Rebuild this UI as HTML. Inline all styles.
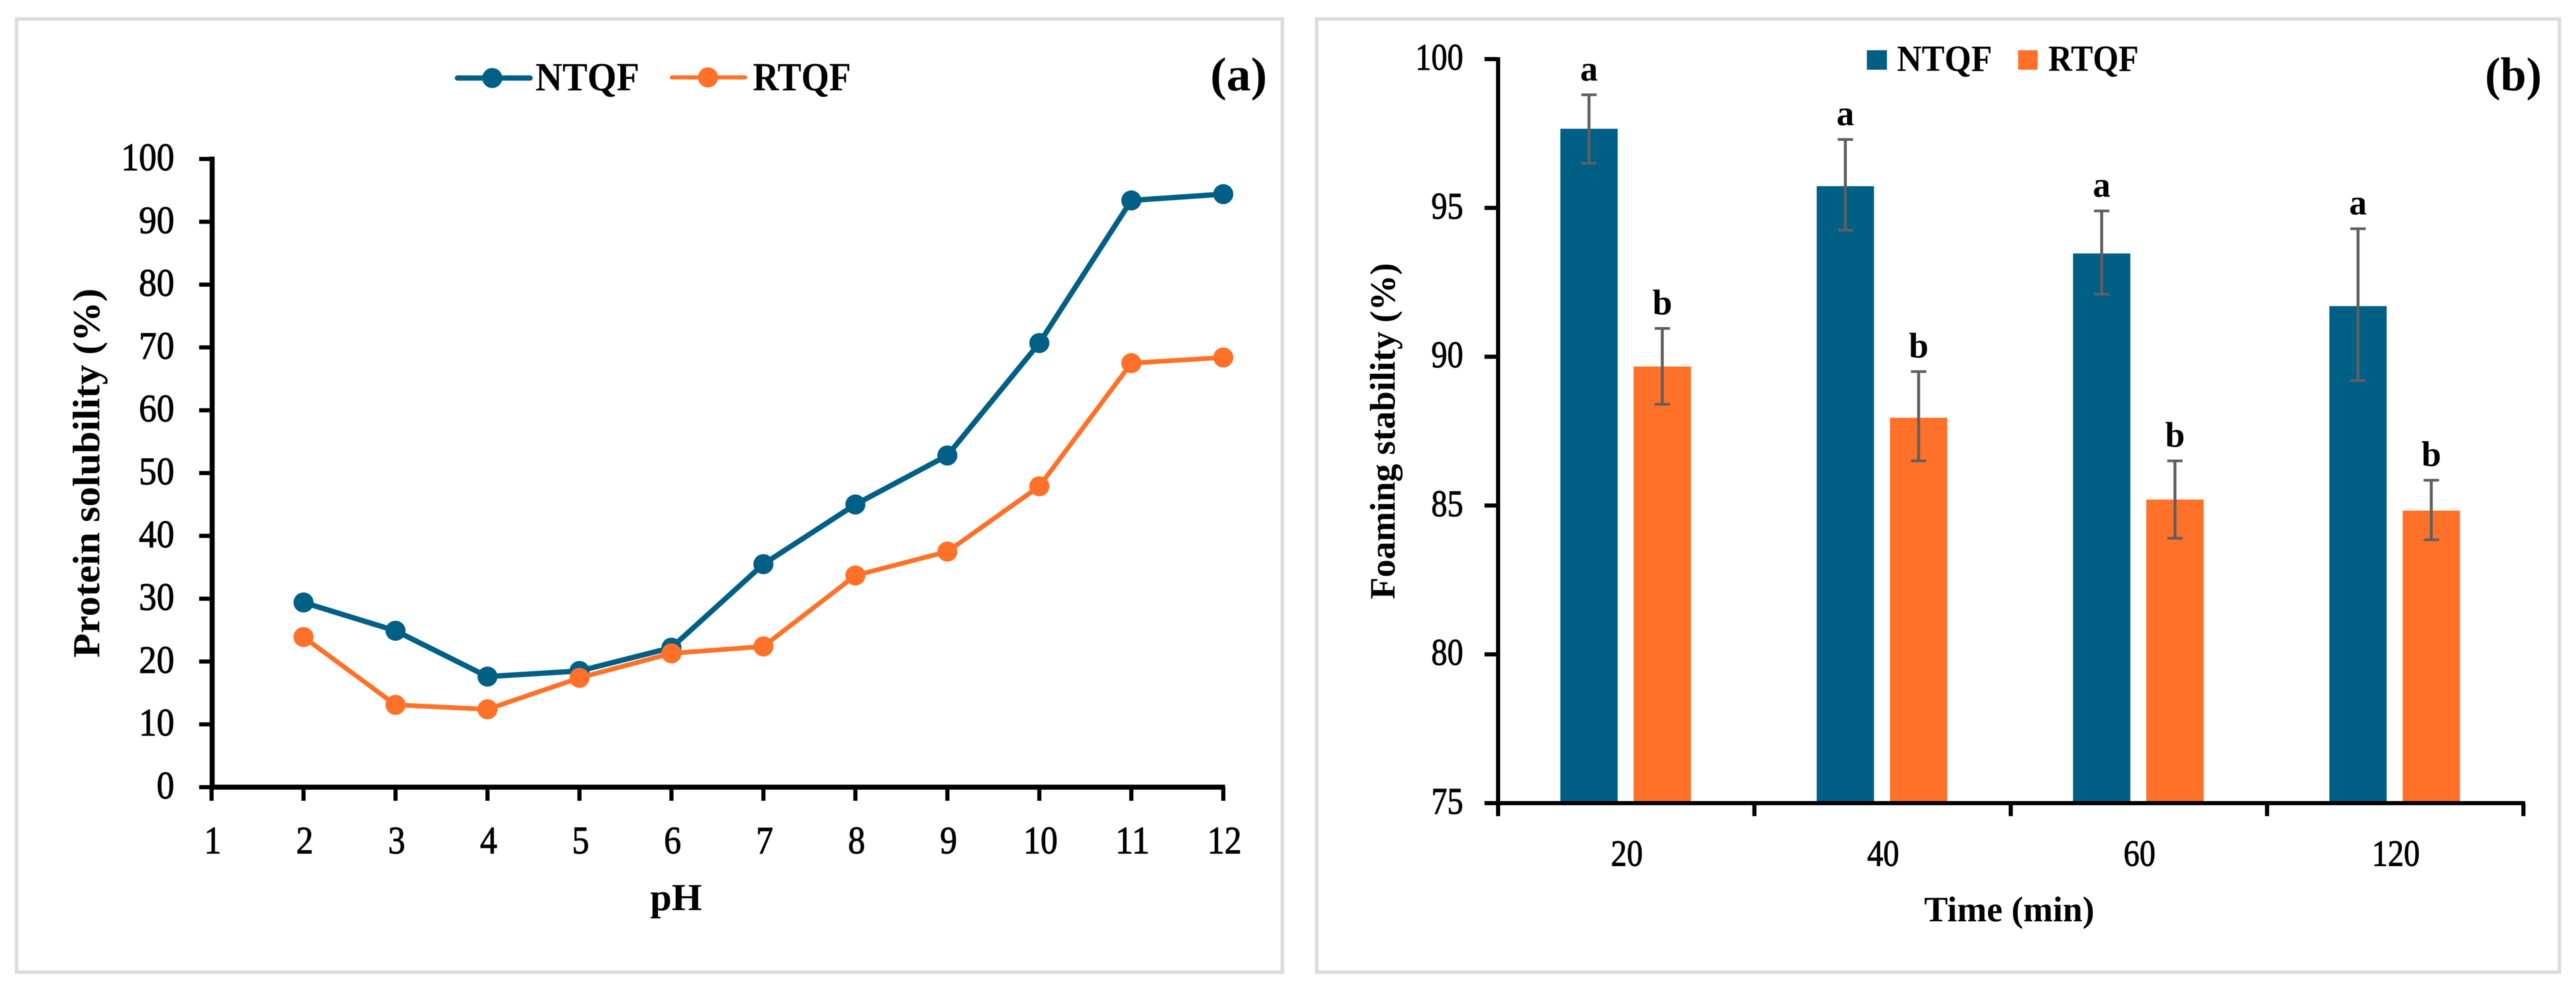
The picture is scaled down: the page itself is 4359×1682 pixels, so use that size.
<!DOCTYPE html>
<html lang="en">
<head>
<meta charset="utf-8">
<title>Protein solubility and foaming stability</title>
<style>
html,body{margin:0;padding:0;background:#fff;}
svg{display:block;filter:blur(0.8px);}
text{font-family:"Liberation Serif",serif;fill:#000;}
.b{font-weight:bold;}
.t{stroke:#000;stroke-width:1.2px;}
</style>
</head>
<body>
<svg id="fig" xmlns="http://www.w3.org/2000/svg" width="4359" height="1682" viewBox="0 0 4359 1682">
  <rect x="0" y="0" width="4359" height="1682" fill="#fff"/>
  <g id="panelA">
    <rect x="28" y="32" width="2142" height="1613" fill="#fff" stroke="#dcdcdc" stroke-width="6"/>
    <text class="b" x="2048" y="153" font-size="80" textLength="96" lengthAdjust="spacingAndGlyphs">(a)</text>
    <g>
      <line x1="774" y1="132" x2="897" y2="132" stroke="#005f85" stroke-width="9" stroke-linecap="round"/>
      <circle cx="833" cy="132" r="17" fill="#005f85"/>
      <text class="b" x="906" y="153" font-size="68" textLength="176" lengthAdjust="spacingAndGlyphs">NTQF</text>
      <line x1="1137" y1="131" x2="1261" y2="131" stroke="#ff7128" stroke-width="7" stroke-linecap="round"/>
      <circle cx="1198" cy="131" r="17" fill="#ff7128"/>
      <text class="b" x="1274" y="153" font-size="68" textLength="166" lengthAdjust="spacingAndGlyphs">RTQF</text>
    </g>
    <text class="b" transform="translate(168 1113) rotate(-90)" x="0" y="0" font-size="65" textLength="625" lengthAdjust="spacingAndGlyphs">Protein solubility (%)</text>
    <text class="b" x="1100" y="1540" font-size="65" textLength="88" lengthAdjust="spacingAndGlyphs">pH</text>
  </g>
  <g id="panelB">
    <rect x="2228" y="32" width="2103" height="1613" fill="#fff" stroke="#dcdcdc" stroke-width="6"/>
    <text class="b" x="4205" y="153" font-size="80" textLength="96" lengthAdjust="spacingAndGlyphs">(b)</text>
    <g>
      <rect x="3159" y="85" width="34" height="33" fill="#005f85"/>
      <text class="b" x="3210" y="120" font-size="62" textLength="161" lengthAdjust="spacingAndGlyphs">NTQF</text>
      <rect x="3415" y="85" width="33" height="33" fill="#ff7128"/>
      <text class="b" x="3466" y="120" font-size="62" textLength="153" lengthAdjust="spacingAndGlyphs">RTQF</text>
    </g>
    <text class="b" transform="translate(2360 1014) rotate(-90)" x="0" y="0" font-size="60" textLength="569" lengthAdjust="spacingAndGlyphs">Foaming stability (%)</text>
    <text class="b" x="3256" y="1559" font-size="60" textLength="288" lengthAdjust="spacingAndGlyphs">Time (min)</text>
  </g>
</svg>
<script>
// Panel (a) data
const phTicks = [1, 2, 3, 4, 5, 6, 7, 8, 9, 10, 11, 12];
const solubilityTicks = [0, 10, 20, 30, 40, 50, 60, 70, 80, 90, 100];
const phValues = [2, 3, 4, 5, 6, 7, 8, 9, 10, 11, 12];
const ntqfSolubility = [29.4, 24.9, 17.6, 18.5, 22.2, 35.5, 45.0, 52.8, 70.7, 93.4, 94.4];
const rtqfSolubility = [23.9, 13.1, 12.4, 17.4, 21.3, 22.4, 33.7, 37.5, 47.9, 67.5, 68.4];

// Panel (b) data
const timeCategories = ["20", "40", "60", "120"];
const stabilityTicks = [75, 80, 85, 90, 95, 100];
const ntqfStability = [97.66, 95.73, 93.47, 91.7];
const rtqfStability = [89.67, 87.95, 85.2, 84.83];
const ntqfErrUpper = [98.8, 97.3, 94.9, 94.3];
const ntqfErrLower = [96.5, 94.25, 92.1, 89.2];
const rtqfErrUpper = [90.95, 89.5, 86.5, 85.85];
const rtqfErrLower = [88.4, 86.5, 83.9, 83.85];
const ntqfLetters = ["a", "a", "a", "a"];
const rtqfLetters = ["b", "b", "b", "b"];

const NS = "http://www.w3.org/2000/svg";
function add(parent, tag, attrs, txt) {
  const el = document.createElementNS(NS, tag);
  for (const k in attrs) el.setAttribute(k, attrs[k]);
  if (txt !== undefined) el.textContent = txt;
  parent.appendChild(el);
  return el;
}

const TEAL = "#005f85", ORANGE = "#ff7128";

// ---- Panel A ----
const A = document.getElementById("panelA");
const ax = v => 358 + (v - 1) * (2070 - 358) / 11;
const ay = v => 1332 - v * (1332 - 269) / 100;

const aPlot = add(A, "g", {});



solubilityTicks.forEach(t => {
  const tick = add(aPlot, "line", {x1: 337, x2: 359, y1: ay(t), y2: ay(t), stroke: "#000", "stroke-width": 7});
  
  
  const label = add(aPlot, "text", {"class": "t", x: 295, y: ay(t) + 19, "font-size": 66, "text-anchor": "end", textLength: String(t).length * 30, lengthAdjust: "spacingAndGlyphs"}, t);
  
  
});
phTicks.forEach(t => {
  const tick = add(aPlot, "line", {x1: ax(t), x2: ax(t), y1: 1332, y2: 1355, stroke: "#000", "stroke-width": 7});
  
  
  const label = add(aPlot, "text", {"class": "t", x: ax(t) + 2, y: 1444, "font-size": 66, "text-anchor": "middle", textLength: String(t).length * 29, lengthAdjust: "spacingAndGlyphs"}, t);
  
  
});
const aAxisY = add(aPlot, "line", {x1: 359, x2: 359, y1: 265, y2: 1336, stroke: "#000", "stroke-width": 8.5});


const aAxisX = add(aPlot, "line", {x1: 355, x2: 2073, y1: 1332, y2: 1332, stroke: "#000", "stroke-width": 8.5});



function linePoints(values) {
  return values.map((v, i) => ax(phValues[i]) + "," + ay(v)).join(" ");
}
const ntqfLine = add(aPlot, "polyline", {points: linePoints(ntqfSolubility), fill: "none", stroke: TEAL, "stroke-width": 9, "stroke-linejoin": "round"});


ntqfSolubility.forEach((v, i) => {
  const dot = add(aPlot, "circle", {cx: ax(phValues[i]), cy: ay(v), r: 17, fill: TEAL});
  
  
});
const rtqfLine = add(aPlot, "polyline", {points: linePoints(rtqfSolubility), fill: "none", stroke: ORANGE, "stroke-width": 8, "stroke-linejoin": "round"});


rtqfSolubility.forEach((v, i) => {
  const dot = add(aPlot, "circle", {cx: ax(phValues[i]), cy: ay(v), r: 17, fill: ORANGE});
  
  
});

// ---- Panel B ----
const B = document.getElementById("panelB");
const bandLeft = 2535, bandW = (4270 - 2535) / timeCategories.length;
const bc = i => bandLeft + bandW * (i + 0.5);
const by = v => 1359 - (v - 75) * (1359 - 100) / 25;
const BAR_W = 97, BAR_GAP = 27;

const bPlot = add(B, "g", {});



stabilityTicks.forEach(t => {
  const tick = add(bPlot, "line", {x1: 2512, x2: 2535, y1: by(t), y2: by(t), stroke: "#000", "stroke-width": 7});
  
  
  const label = add(bPlot, "text", {"class": "t", x: 2476, y: by(t) + 18, "font-size": 64, "text-anchor": "end", textLength: String(t).length * 27, lengthAdjust: "spacingAndGlyphs"}, t);
  
  
});

function drawBar(i, value, hi, lo, color, offset, letter, seriesName) {
  const cx = bc(i) - 1 + offset;
  const bar = add(bPlot, "rect", {x: cx - BAR_W / 2, y: by(value), width: BAR_W, height: 1359 - by(value), fill: color});
  
  
  const stem = add(bPlot, "line", {x1: cx, x2: cx, y1: by(hi), y2: by(lo), stroke: "#5f5f5f", "stroke-width": 5});
  
  
  const capTop = add(bPlot, "line", {x1: cx - 13, x2: cx + 13, y1: by(hi), y2: by(hi), stroke: "#5f5f5f", "stroke-width": 4.5});
  
  
  const capBottom = add(bPlot, "line", {x1: cx - 13, x2: cx + 13, y1: by(lo), y2: by(lo), stroke: "#5f5f5f", "stroke-width": 4.5});
  
  
  const sig = add(bPlot, "text", {x: cx, y: by(hi) - 24, "font-size": 60, "text-anchor": "middle", "class": "b"}, letter);
  
  
}
timeCategories.forEach((c, i) => {
  const off = (BAR_W + BAR_GAP) / 2;
  drawBar(i, ntqfStability[i], ntqfErrUpper[i], ntqfErrLower[i], TEAL, -off, ntqfLetters[i], 'ntqf');
  drawBar(i, rtqfStability[i], rtqfErrUpper[i], rtqfErrLower[i], ORANGE, off, rtqfLetters[i], 'rtqf');
  const label = add(bPlot, "text", {"class": "t", x: bc(i) + 1, y: 1465, "font-size": 62, "text-anchor": "middle", textLength: c.length * 27, lengthAdjust: "spacingAndGlyphs"}, c);
  
  
});
for (let i = 0; i <= timeCategories.length; i++) {
  const x = bandLeft + bandW * i;
  const tick = add(bPlot, "line", {x1: x, x2: x, y1: 1359, y2: 1381, stroke: "#000", "stroke-width": 7});
  
  
}
const bAxisY = add(bPlot, "line", {x1: 2535, x2: 2535, y1: 97, y2: 1362, stroke: "#000", "stroke-width": 7});


const bAxisX = add(bPlot, "line", {x1: 2532, x2: 4273, y1: 1359, y2: 1359, stroke: "#000", "stroke-width": 7});


</script>
</body>
</html>
